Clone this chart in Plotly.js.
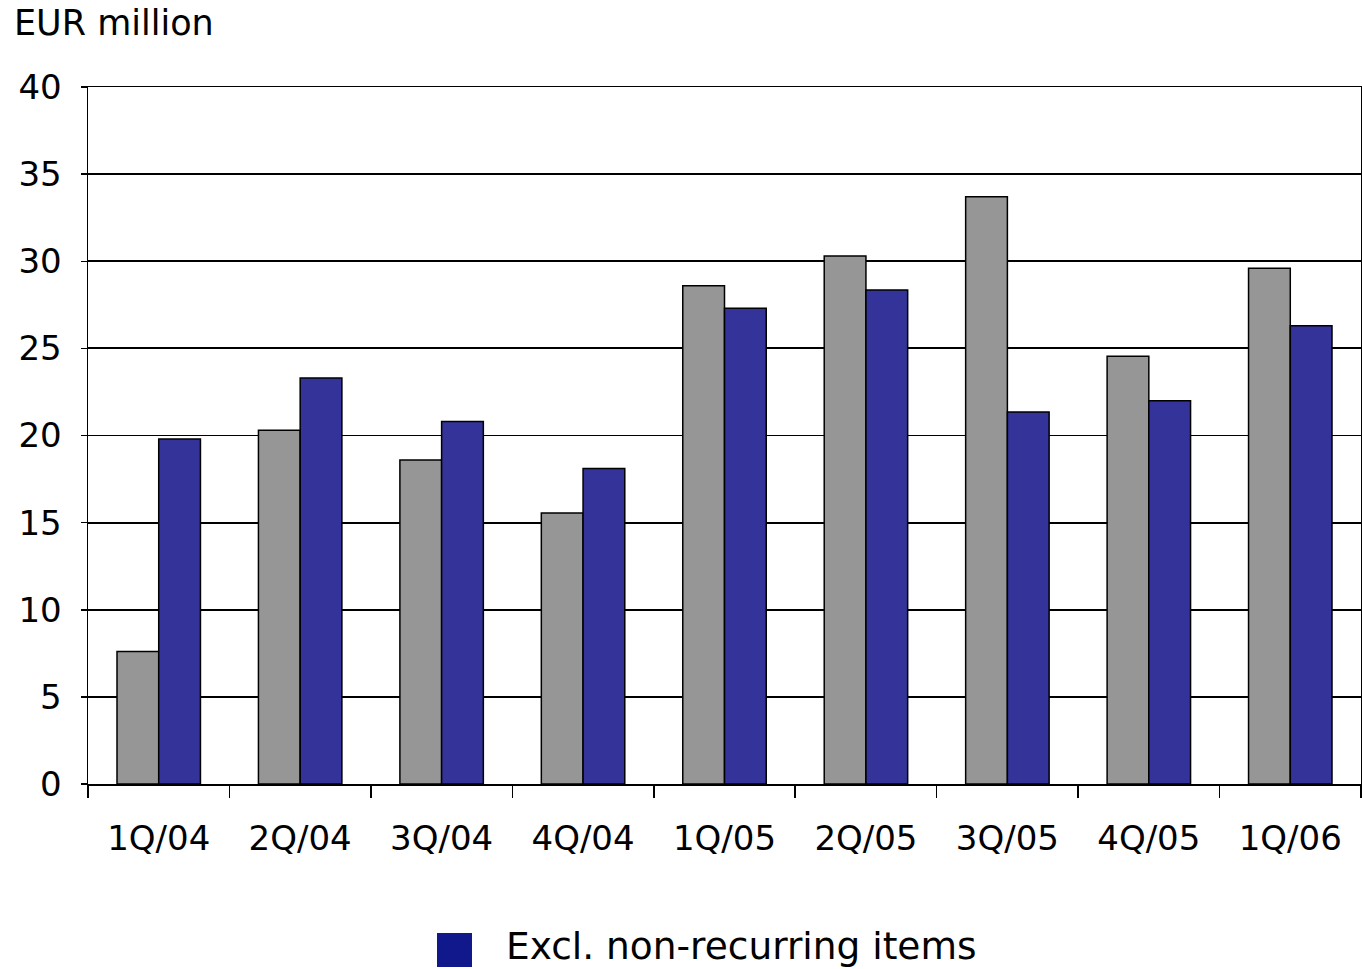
<!DOCTYPE html>
<html>
<head>
<meta charset="utf-8">
<script src="https://cdn.plot.ly/plotly-3.0.1.min.js"></script>
<style>html,body{margin:0;padding:0;background:#fff;}#chart{width:1362px;height:969px;}</style>
</head>
<body>
<div id="chart"></div>
<script>
const categories = ["1Q/04","2Q/04","3Q/04","4Q/04","1Q/05","2Q/05","3Q/05","4Q/05","1Q/06"];
const reported = [7.6, 20.3, 18.6, 15.55, 28.6, 30.3, 33.7, 24.55, 29.6];
const exclNonRecurring = [19.8, 23.3, 20.8, 18.1, 27.3, 28.35, 21.35, 22.0, 26.3];
const yTicks = [0,5,10,15,20,25,30,35,40];
const legendLabel = "Excl. non-recurring items";
const yUnit = "EUR million";

const font = "DejaVu Sans, Verdana, sans-serif";
const traces = [
  {type:"bar", x:categories, y:reported, name:"Reported", showlegend:false,
   marker:{color:"#969696", line:{color:"#000", width:1.5}}},
  {type:"bar", x:categories, y:exclNonRecurring, name:legendLabel, showlegend:false,
   marker:{color:"#333399", line:{color:"#000", width:1.5}}}
];
const layout = {
  width:1362, height:969,
  margin:{l:88, r:1, t:87, b:185},
  paper_bgcolor:"#fff", plot_bgcolor:"#fff",
  font:{family:font, size:34, color:"#000"},
  barmode:"group", bargap:0.41, bargroupgap:0,
  showlegend:false,
  xaxis:{type:"category", showline:true, linecolor:"#000", linewidth:1.5, mirror:true,
    ticks:"outside", tickson:"boundaries", ticklen:12, tickcolor:"#000", tickwidth:1.5,
    ticklabelstandoff:24, tickfont:{size:34}, showgrid:false},
  yaxis:{range:[0,40], tickvals:yTicks, showline:true, linecolor:"#000", linewidth:1.5, mirror:true,
    ticks:"outside", ticklen:6, tickcolor:"#000", tickwidth:1.5, ticklabelstandoff:12,
    showgrid:true, gridcolor:"#000", gridwidth:1.8, zeroline:false, tickfont:{size:34}},
  shapes:[{type:"rect", xref:"paper", yref:"paper",
    x0:(437-88)/1273, x1:(472-88)/1273, y0:(784-967)/697, y1:(784-933)/697,
    fillcolor:"#10188C", line:{width:0}}],
  annotations:[
    {text:yUnit, xref:"paper", yref:"paper", x:(12-88)/1273, y:(784-23)/697,
     xanchor:"left", yanchor:"middle", showarrow:false, font:{size:35}},
    {text:legendLabel, xref:"paper", yref:"paper", x:(504-88)/1273, y:(784-946)/697,
     xanchor:"left", yanchor:"middle", showarrow:false, font:{size:37.5}}
  ]
};
Plotly.newPlot("chart", traces, layout, {displayModeBar:false, staticPlot:true});
</script>
</body>
</html>
